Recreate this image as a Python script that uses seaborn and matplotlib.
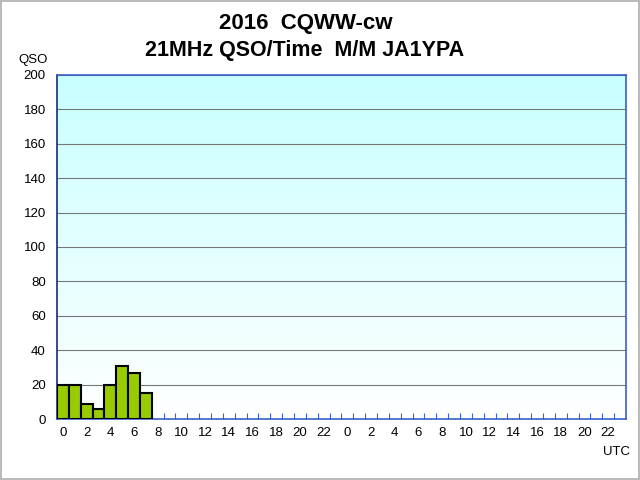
import matplotlib
matplotlib.use("Agg")
import matplotlib.pyplot as plt
import numpy as np
import pandas as pd
import seaborn as sns

# Dados: QSO por hora (21MHz), somente as primeiras 8 horas tem contatos
horas = [0, 1, 2, 3, 4, 5, 6, 7]
qsos = [20, 20, 9, 6, 20, 31, 27, 15]
rotulos_x = [str(h) for h in range(0, 24, 2)] * 2

df = pd.DataFrame({"slot": horas, "qso": qsos})

sns.set_style("white")
plt.rcParams["font.family"] = ["Liberation Sans", "DejaVu Sans"]
plt.rcParams["text.color"] = "black"
plt.rcParams["xtick.labelcolor"] = "black"
plt.rcParams["ytick.labelcolor"] = "black"

fig = plt.figure(figsize=(6.4, 4.8), dpi=100)
fig.patch.set_edgecolor("#bbbbbb")
fig.patch.set_linewidth(1.5)
ax = fig.add_axes([0.089, 0.127, 0.889, 0.717])

# Fundo em degradê (ciano em cima, branco embaixo)
grad = np.linspace(1, 0, 256).reshape(-1, 1)
cmap = matplotlib.colors.LinearSegmentedColormap.from_list("fundo", ["#ffffff", "#c8ffff"])
ax.imshow(grad, extent=[-0.5, 47.5, 0, 200], aspect="auto", cmap=cmap, zorder=0, origin="upper")

sns.barplot(data=df, x="slot", y="qso", order=list(range(8)), color="#99cc00",
            saturation=1, width=1.0, edgecolor="black", linewidth=1.5, ax=ax, zorder=3)

ax.set_xlim(-0.5, 47.5)
ax.set_ylim(0, 200)
ax.set_yticks(range(0, 201, 20))
ax.yaxis.grid(True, color="#777777", linewidth=0.8, zorder=1)
for gl in ax.get_ygridlines():
    gl.set_zorder(1)

ax.set_xticks(range(0, 48, 2))
ax.set_xticklabels(rotulos_x)
ax.set_xticks(np.arange(0.5, 47.5, 1), minor=True)
ax.tick_params(axis="x", which="major", bottom=True, length=0, labelsize=9.5, pad=6,
               labelcolor="black")
ax.tick_params(axis="x", which="minor", bottom=True, direction="in", length=4,
               color="#3a5fc8", width=0.8)
ax.tick_params(axis="y", length=0, labelsize=9.5, pad=8, labelcolor="black")
ax.set_xlabel("")
ax.set_ylabel("")

for lado in ["left", "right", "top", "bottom"]:
    ax.spines[lado].set_visible(True)
    ax.spines[lado].set_color("#3a5fc8")
    ax.spines[lado].set_linewidth(1.2)
ax.spines["left"].set_color("#1a2a80")

fig.text(0.478, 0.951, "2016  CQWW-cw", ha="center", va="center", fontsize=16,
         fontweight="bold", color="black")
fig.text(0.476, 0.894, "21MHz QSO/Time  M/M JA1YPA", ha="center", va="center",
         fontsize=15.5, fontweight="bold", color="black")
fig.text(0.052, 0.876, "QSO", ha="center", va="center", fontsize=9.5, color="black")
fig.text(0.963, 0.058, "UTC", ha="center", va="center", fontsize=9.5, color="black")

fig.savefig("out.png", dpi=100)
